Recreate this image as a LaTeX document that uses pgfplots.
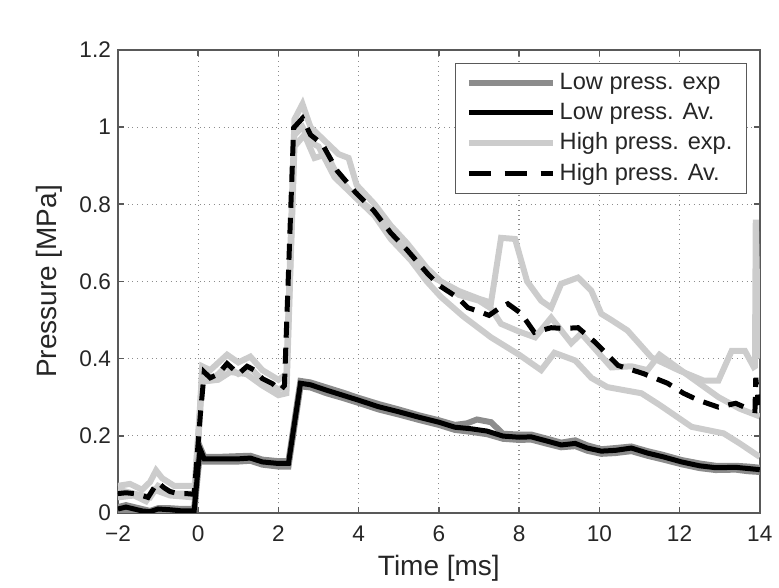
\documentclass[border=0pt]{standalone}
\usepackage{fontspec}
\setmainfont{Liberation Sans}
\usepackage{pgfplots}
\pgfplotsset{compat=1.18}
\definecolor{lowexp}{gray}{0.55}
\definecolor{highexp}{gray}{0.80}
\definecolor{axgray}{gray}{0.35}
\begin{document}
\begin{tikzpicture}
\begin{axis}[
 scale only axis, width=321pt, height=231.5pt,
 xmin=-2, xmax=14, ymin=0, ymax=1.2,
 xtick={-2,0,2,4,6,8,10,12,14}, xticklabels={−2,0,2,4,6,8,10,12,14},
 ytick={0,0.2,0.4,0.6,0.8,1,1.2}, yticklabels={0,0.2,0.4,0.6,0.8,1,1.2},
 tick align=inside, major tick length=3pt,
 grid=major, grid style={dotted, black!45, line width=0.6pt},
 axis line style={axgray, line width=0.8pt},
 tick style={axgray, line width=0.8pt},
 ticklabel style={font=\fontsize{11.3}{13}\selectfont, text=black!85},
 xticklabel style={yshift=-3pt},
 xlabel={Time [ms]}, ylabel={Pressure [MPa]},
 label style={font=\fontsize{14}{16}\selectfont, text=black!85},
 xlabel style={at={(axis description cs:0.5,0)}, anchor=center, yshift=-27.5pt},
 ylabel style={at={(axis description cs:0,0.5)}, anchor=center, yshift=34.5pt},
 legend style={at={(1,1)}, xshift=-6.5pt, yshift=-6.5pt, anchor=north east,
   draw=axgray, font=\fontsize{11.8}{13.5}\selectfont, row sep=1.2pt, inner xsep=5pt, inner ysep=3pt, text=black!85},
 legend cell align=left,
 legend image code/.code={\draw[#1] (0pt,0pt) -- (42pt,0pt);},
]
\addlegendimage{lowexp, line width=3pt}
\addlegendentry{Low press. exp}
\addlegendimage{black, line width=2.5pt}
\addlegendentry{Low press. Av.}
\addlegendimage{highexp, line width=3pt}
\addlegendentry{High press. exp.}
\addlegendimage{black, line width=2.5pt, dash pattern=on 11pt off 7pt}
\addlegendentry{High press. Av.}

% High pressure experiments
\addplot[highexp, line width=3pt, forget plot] coordinates {
(-2,0.07)(-1.7,0.075)(-1.4,0.06)(-1.2,0.08)(-1.05,0.11)(-0.9,0.09)(-0.6,0.07)(-0.2,0.07)(-0.05,0.07)
(0.1,0.38)(0.3,0.37)(0.72,0.41)(1.0,0.39)(1.3,0.405)(1.6,0.37)(2.0,0.345)(2.2,0.36)
(2.4,1.02)(2.6,1.06)(2.8,1.0)(3.1,0.97)(3.5,0.93)(3.75,0.92)(3.95,0.85)(4.4,0.8)(4.8,0.745)(5.2,0.7)
(5.7,0.635)(6.05,0.60)(6.5,0.575)(7.0,0.555)(7.3,0.545)(7.55,0.713)(7.9,0.71)(8.2,0.60)(8.55,0.55)
(8.8,0.532)(9.05,0.594)(9.47,0.61)(9.8,0.576)(10.05,0.516)(10.3,0.50)(10.7,0.473)(11.3,0.403)
(11.97,0.37)(12.6,0.343)(12.97,0.343)(13.3,0.42)(13.63,0.42)(13.85,0.378)(13.88,0.38)(13.9,0.76)(13.95,0.5)(14,0.4)
};
\addplot[highexp, line width=3pt, forget plot] coordinates {
(-2,0.06)(-1.6,0.05)(-1.2,0.04)(-1.0,0.07)(-0.6,0.05)(-0.1,0.05)(0.1,0.36)(0.4,0.35)(0.7,0.38)
(1.0,0.36)(1.3,0.375)(1.6,0.345)(2.0,0.32)(2.2,0.33)(2.4,0.98)(2.6,1.0)(2.8,0.96)(3.0,0.95)
(3.4,0.87)(3.9,0.82)(4.4,0.78)(4.8,0.72)(5.3,0.67)(5.7,0.62)(6.05,0.60)(6.5,0.565)(7.0,0.55)
(7.3,0.53)(7.55,0.49)(8.0,0.47)(8.4,0.455)(8.8,0.506)(9.3,0.44)(9.55,0.465)(10.3,0.377)(10.8,0.38)
(11.2,0.37)(11.5,0.41)(11.7,0.395)(12.3,0.35)(12.97,0.30)(13.5,0.27)(14,0.25)
};
\addplot[highexp, line width=3pt, forget plot] coordinates {
(-2,0.04)(-1.6,0.045)(-1.3,0.03)(-1.1,0.06)(-0.7,0.045)(-0.1,0.04)(0.1,0.34)(0.5,0.345)(0.8,0.365)
(1.2,0.36)(1.6,0.33)(2.0,0.305)(2.2,0.31)(2.4,0.95)(2.65,0.98)(2.9,0.92)(3.2,0.93)(3.5,0.87)
(3.9,0.82)(4.4,0.77)(4.8,0.71)(5.3,0.655)(5.7,0.60)(6.05,0.56)(6.6,0.51)(7.3,0.455)(8.0,0.41)
(8.55,0.37)(8.88,0.415)(9.4,0.395)(9.8,0.35)(10.2,0.326)(11.05,0.31)(11.5,0.28)(12.3,0.223)
(13.1,0.206)(13.5,0.18)(14,0.145)
};

% Low pressure experiments
\addplot[lowexp, line width=3pt, forget plot] coordinates {
(-2,0.015)(-1.8,0.02)(-1.6,0.015)(-1.4,0.01)(-1.2,0.005)(-1.0,0.012)(-0.7,0.012)(-0.4,0.01)(-0.1,0.01)
(0,0.13)(0.05,0.17)(0.15,0.145)(0.5,0.145)(1.0,0.147)(1.3,0.148)(1.6,0.138)(2.0,0.134)(2.25,0.134)
(2.55,0.342)(2.8,0.338)(3.2,0.325)(3.6,0.312)(4.0,0.298)(4.5,0.282)(5.0,0.268)(5.5,0.253)(6.0,0.24)
(6.4,0.228)(6.7,0.232)(6.95,0.242)(7.3,0.235)(7.6,0.205)(8.0,0.203)(8.3,0.203)(8.7,0.192)(9.05,0.182)
(9.4,0.188)(9.7,0.175)(10.05,0.165)(10.4,0.168)(10.8,0.172)(11.2,0.16)(11.6,0.15)(12.05,0.137)
(12.5,0.128)(12.9,0.122)(13.4,0.122)(13.7,0.12)(14,0.117)
};
\addplot[lowexp, line width=3pt, forget plot] coordinates {
(-2,0.005)(-1.8,0.008)(-1.6,0.005)(-1.4,0.0)(-1.2,0.0)(-1.0,0.005)(-0.7,0.003)(-0.4,0.0)(-0.1,0.0)
(0,0.11)(0.05,0.155)(0.15,0.133)(0.5,0.133)(1.0,0.133)(1.3,0.135)(1.6,0.125)(2.0,0.12)(2.25,0.12)
(2.55,0.328)(2.8,0.325)(3.2,0.31)(3.6,0.298)(4.0,0.285)(4.5,0.268)(5.0,0.255)(5.5,0.241)(6.0,0.228)
(6.4,0.215)(6.8,0.21)(7.2,0.204)(7.6,0.192)(8.0,0.189)(8.3,0.19)(8.7,0.179)(9.05,0.17)(9.4,0.173)
(9.7,0.161)(10.05,0.153)(10.4,0.155)(10.8,0.16)(11.2,0.148)(11.6,0.138)(12.05,0.126)(12.5,0.116)
(12.9,0.111)(13.4,0.112)(13.7,0.108)(14,0.106)
};

% Low pressure average
\addplot[black, line width=2.5pt, forget plot] coordinates {
(-2,0.01)(-1.8,0.015)(-1.6,0.01)(-1.4,0.005)(-1.2,0.003)(-1.0,0.01)(-0.7,0.008)(-0.4,0.005)(-0.1,0.005)
(0,0.12)(0.05,0.165)(0.15,0.14)(0.5,0.14)(1.0,0.14)(1.3,0.142)(1.6,0.132)(2.0,0.128)(2.25,0.128)
(2.55,0.336)(2.8,0.332)(3.2,0.318)(3.6,0.305)(4.0,0.292)(4.5,0.275)(5.0,0.262)(5.5,0.248)(6.0,0.235)
(6.4,0.222)(6.8,0.218)(7.2,0.212)(7.6,0.199)(8.0,0.196)(8.3,0.197)(8.7,0.186)(9.05,0.176)(9.4,0.18)
(9.7,0.168)(10.05,0.16)(10.4,0.162)(10.8,0.168)(11.2,0.155)(11.6,0.145)(12.05,0.132)(12.5,0.122)
(12.9,0.117)(13.4,0.118)(13.7,0.115)(14,0.112)
};

% High pressure average
\addplot[black, line width=2.5pt, dash pattern=on 8pt off 5pt, forget plot] coordinates {
(-2,0.05)(-1.8,0.052)(-1.6,0.05)(-1.4,0.045)(-1.25,0.04)(-1.1,0.065)(-1.0,0.078)(-0.85,0.065)
(-0.7,0.055)(-0.5,0.05)(-0.3,0.05)(-0.1,0.048)(0.05,0.25)(0.15,0.365)(0.3,0.35)(0.5,0.36)
(0.72,0.387)(0.9,0.37)(1.0,0.36)(1.22,0.38)(1.4,0.37)(1.6,0.348)(1.85,0.335)(2.05,0.318)(2.15,0.33)
(2.38,0.998)(2.6,1.023)(2.8,0.98)(3.1,0.955)(3.47,0.886)(3.93,0.83)(4.38,0.783)(4.8,0.726)(5.22,0.68)
(5.72,0.62)(6.0,0.59)(6.47,0.558)(6.72,0.532)(7.0,0.522)(7.25,0.512)(7.5,0.53)(7.72,0.542)(8.05,0.517)
(8.38,0.468)(8.8,0.48)(9.1,0.478)(9.47,0.48)(9.9,0.442)(10.2,0.41)(10.47,0.382)(11.1,0.361)(11.7,0.336)
(12.1,0.31)(12.47,0.292)(12.97,0.274)(13.4,0.284)(13.8,0.266)(13.88,0.265)(13.9,0.35)(13.95,0.30)(14,0.28)
};
\end{axis}
\path ([xshift=-59pt,yshift=-35.5pt]current axis.south west) rectangle ([xshift=9.5pt,yshift=25pt]current axis.north east);
\end{tikzpicture}
\end{document}
